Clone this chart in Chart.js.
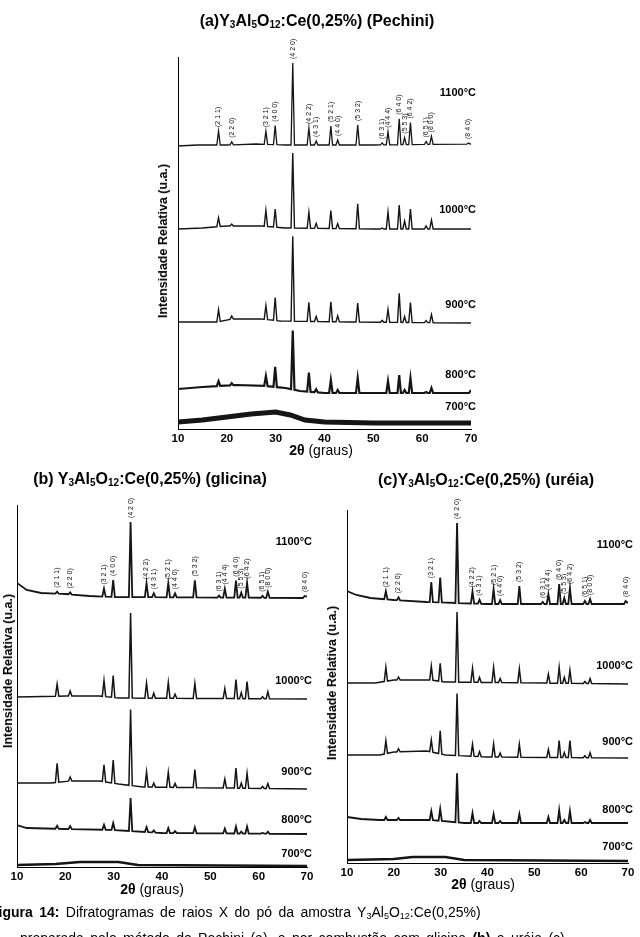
<!DOCTYPE html>
<html>
<head>
<meta charset="utf-8">
<script src="https://cdn.jsdelivr.net/npm/chart.js@4"></script>
<style>
body { margin: 0; width: 640px; height: 937px; overflow: hidden; background: #fff; position: relative; font-family: "Liberation Sans", Arial, sans-serif; }
canvas { position: absolute; }
.t { position: absolute; white-space: nowrap; color: #000; z-index: 2; }
.ttl { font-weight: bold; font-size: 16px; transform: translate(-50%, -50%); }
.ttl sub { font-size: 10px; vertical-align: -2px; line-height: 0; }
.xt { font-size: 14px; transform: translate(-50%, -50%); }
.yt { font-weight: bold; font-size: 12.5px; transform: translate(-50%, -50%) rotate(-90deg); }
.cap { font-size: 14px; line-height: 18px; word-spacing: 2.5px; }
.cap sub { font-size: 9px; vertical-align: -2px; line-height: 0; }
</style>
</head>
<body>
<canvas id="ca" width="317" height="424" style="left:166px;top:27px"></canvas>
<canvas id="cb" width="314" height="414" style="left:5px;top:475px"></canvas>
<canvas id="cc" width="305" height="405" style="left:335px;top:480px"></canvas>

<div class="t ttl" style="left:317px;top:21px">(a)Y<sub>3</sub>Al<sub>5</sub>O<sub>12</sub>:Ce(0,25%) (Pechini)</div>
<div class="t ttl" style="left:150px;top:479px">(b) Y<sub>3</sub>Al<sub>5</sub>O<sub>12</sub>:Ce(0,25%) (glicina)</div>
<div class="t ttl" style="left:486px;top:480px">(c)Y<sub>3</sub>Al<sub>5</sub>O<sub>12</sub>:Ce(0,25%) (uréia)</div>

<div class="t xt" style="left:321px;top:450px"><b>2θ</b> (graus)</div>
<div class="t xt" style="left:152px;top:889px"><b>2θ</b> (graus)</div>
<div class="t xt" style="left:483px;top:884px"><b>2θ</b> (graus)</div>

<div class="t yt" style="left:163px;top:241px">Intensidade Relativa (u.a.)</div>
<div class="t yt" style="left:8px;top:671px">Intensidade Relativa (u.a.)</div>
<div class="t yt" style="left:332px;top:683px">Intensidade Relativa (u.a.)</div>

<div class="t cap" style="left:-10px;top:903px"><b>Figura 14:</b> Difratogramas de raios X do pó da amostra Y<sub>3</sub>Al<sub>5</sub>O<sub>12</sub>:Ce(0,25%)</div>
<div class="t cap" style="left:20px;top:929px">preparada pelo método de Pechini (a), e por combustão com glicina <b>(b)</b> e uréia (c)</div>

<script>
// peak positions (2 theta) and Miller indices
const twoTheta = [18.3, 21.0, 28.0, 29.9, 33.5, 36.8, 38.3, 41.3, 42.7, 46.8, 51.8, 53.0, 55.3, 56.4, 57.6, 60.8, 61.9, 69.5];
const hkl = ["(2 1 1)", "(2 2 0)", "(3 2 1)", "(4 0 0)", "(4 2 0)", "(4 2 2)", "(4 3 1)", "(5 2 1)", "(4 4 0)", "(5 3 2)",
             "(6 3 1)", "(4 4 4)", "(6 4 0)", "(5 5 3)", "(6 4 2)", "(6 5 1)", "(8 0 0)", "(8 4 0)"];
const hklUreia = hkl.map(h => h === "(4 0 0)" ? null : h);
const temperatures = ["1100°C", "1000°C", "900°C", "800°C", "700°C"];
const xTicks = [10, 20, 30, 40, 50, 60, 70];

// (a) Pechini: background [2theta, level] and peak heights above background
const pechiniBackground = [
    [[10, 283], [14, 284], [20, 284], [26, 285], [32, 284], [50, 284], [70, 285]],
    [[10, 200], [15, 201], [20, 203], [27, 203], [32, 201], [50, 200], [70, 200]],
    [[10, 107], [18, 107], [21, 110], [27, 110], [31, 108], [45, 107], [70, 106]],
    [[10, 40], [15, 42], [22, 44], [28, 43], [32, 41], [35, 38], [40, 36], [69.6, 36], [70, 39]],
    [[10, 7], [15, 9], [20, 12], [25, 15], [30, 17], [33, 14], [36, 9], [40, 7], [50, 6], [70, 6]]
];
const pechiniPeaks = [
    [14, 3, 13, 19, 82, 17, 4, 19, 5, 20, 2, 13, 26, 7, 22, 3, 8, 1],
    [9, 2, 16, 18, 75, 16, 5, 18, 5, 25, 1, 17, 24, 8, 20, 3, 9, 0],
    [12, 3, 14, 23, 85, 19, 5, 20, 6, 19, 2, 13, 29, 6, 20, 2, 8, 0],
    [5, 2, 10, 20, 59, 19, 3, 13, 3, 15, 0, 12, 18, 3, 15, 1, 5, 0],
    []
];

// (b) glicina
const glicinaBackground = [
    [[10, 284], [12, 277], [15, 274], [20, 273], [25, 271], [30, 270], [69.5, 269], [70, 271]],
    [[10, 170], [20, 171], [27, 171], [31, 169], [70, 168]],
    [[10, 84], [17, 84], [21, 86], [27, 86], [31, 83], [36, 80], [70, 78]],
    [[10, 42], [12, 39], [20, 38], [30, 37], [40, 34], [70, 33]],
    [[10, 2], [18, 3], [23, 5], [31, 5], [35, 2], [70, 1]]
];
const glicinaPeaks = [
    [2, 2, 8, 17, 75, 14, 4, 14, 4, 17, 2, 9, 17, 5, 15, 2, 6, 2],
    [12, 5, 16, 22, 85, 15, 5, 16, 4, 15, 0, 10, 19, 6, 17, 2, 7, 0],
    [19, 4, 17, 23, 76, 15, 4, 15, 4, 18, 0, 9, 20, 5, 15, 2, 5, 0],
    [3, 3, 5, 7, 33, 5, 2, 5, 2, 6, 0, 5, 7, 2, 7, 1, 2, 0],
    []
];

// (c) ureia
const ureiaBackground = [
    [[10, 272], [12, 268], [15, 265], [20, 263], [27, 261], [40, 259], [69.5, 259], [70, 261]],
    [[10, 180], [16, 180], [20, 183], [28, 183], [31, 181], [70, 179]],
    [[10, 108], [17, 108], [20, 111], [27, 112], [31, 108], [40, 106], [70, 105]],
    [[10, 46], [13, 44], [17, 43], [20, 43], [28, 43], [35, 40], [70, 40]],
    [[10, 3], [20, 4], [24, 6], [31, 6], [35, 3], [70, 2]]
];
const ureiaPeaks = [
    [8, 3, 20, 25, 80, 12, 4, 15, 4, 18, 2, 10, 20, 6, 16, 3, 5, 3],
    [14, 3, 14, 18, 70, 14, 5, 15, 4, 14, 0, 9, 16, 6, 13, 2, 5, 0],
    [13, 3, 12, 23, 62, 12, 5, 13, 4, 13, 0, 8, 17, 5, 17, 2, 5, 0],
    [3, 2, 9, 12, 49, 10, 2, 9, 2, 9, 0, 6, 13, 3, 12, 1, 3, 0],
    []
];

// background level under a peak foot
function baseAt(bg, x) {
    for (let k = 1; k < bg.length; k++) {
        if (x <= bg[k][0]) {
            const [x0, y0] = bg[k - 1];
            const [x1, y1] = bg[k];
            return y0 + (y1 - y0) * (x - x0) / (x1 - x0);
        }
    }
    return bg[bg.length - 1][1];
}

const halfWidth = 0.35;
function tracePoints(bg, peaks) {
    const pts = bg.filter(([x]) => !peaks.some((h, i) => h && Math.abs(x - twoTheta[i]) < halfWidth))
        .map(([x, y]) => ({ x, y }));
    peaks.forEach((h, i) => {
        if (!h) return;
        const p = twoTheta[i];
        pts.push({ x: p - halfWidth, y: baseAt(bg, p - halfWidth) },
                 { x: p, y: baseAt(bg, p) + h },
                 { x: p + halfWidth, y: baseAt(bg, p + halfWidth) });
    });
    return pts.sort((a, b) => a.x - b.x);
}

const labelPlugin = {
    id: "xrdLabels",
    afterDatasetsDraw(chart) {
        const o = chart.options.plugins.xrdLabels;
        const ctx = chart.ctx;
        const xs = chart.scales.x, ys = chart.scales.y;
        ctx.save();
        ctx.fillStyle = "#111";
        // hkl indices above the 1100 trace
        ctx.font = "7px 'Liberation Sans', Arial, sans-serif";
        ctx.textAlign = "left";
        ctx.textBaseline = "middle";
        o.peaks.forEach((h, i) => {
            if (!o.labels[i]) return;
            const p = twoTheta[i];
            const px = xs.getPixelForValue(p);
            const py = ys.getPixelForValue(baseAt(o.bg, p) + h) - 4;
            ctx.save();
            ctx.translate(px, py);
            ctx.rotate(-Math.PI / 2);
            ctx.fillText(o.labels[i], 0, 0);
            ctx.restore();
        });
        // temperature labels
        ctx.fillStyle = "#000";
        ctx.font = "bold 11px 'Liberation Sans', Arial, sans-serif";
        ctx.textAlign = "right";
        temperatures.forEach((t, j) => {
            ctx.fillText(t, chart.chartArea.right + 5, ys.getPixelForValue(o.tempAt[j]));
        });
        ctx.restore();
    }
};

function makePanel(id, bgs, peaks, labels, yMax, tempAt, widths) {
    new Chart(document.getElementById(id), {
        type: "line",
        data: {
            datasets: bgs.map((bg, j) => ({
                label: temperatures[j],
                data: tracePoints(bg, peaks[j]),
                borderColor: "#151515",
                borderWidth: widths[j],
                pointRadius: 0,
                tension: 0,
                fill: false
            }))
        },
        options: {
            responsive: false,
            animation: false,
            devicePixelRatio: 1,
            layout: { padding: { left: 12, right: 12, top: 30, bottom: 0 } },
            plugins: {
                legend: { display: false },
                tooltip: { enabled: false },
                xrdLabels: { bg: bgs[0], peaks: peaks[0], labels, tempAt }
            },
            scales: {
                x: {
                    type: "linear",
                    min: 10,
                    max: 70,
                    afterBuildTicks: s => { s.ticks = xTicks.map(v => ({ value: v })); },
                    afterFit: s => { s.height = 22; },
                    grid: { display: false, drawTicks: false },
                    border: { display: true, color: "#000", width: 1 },
                    ticks: { padding: 3, color: "#000", font: { family: "'Liberation Sans Narrow', 'Liberation Sans'", size: 11.5, weight: "bold" } }
                },
                y: {
                    min: 0,
                    max: yMax,
                    afterFit: s => { s.width = 0; },
                    grid: { display: false, drawTicks: false },
                    border: { display: true, color: "#000", width: 1 },
                    ticks: { display: false }
                }
            }
        },
        plugins: [labelPlugin]
    });
}

makePanel("ca", pechiniBackground, pechiniPeaks, hkl, 372, [336, 219, 124, 54, 22], [1.3, 1.4, 1.4, 2.2, 5]);
makePanel("cb", glicinaBackground, glicinaPeaks, hkl, 362, [325, 186, 95, 47, 13], [1.8, 1.5, 1.5, 1.8, 2.5]);
makePanel("cc", ureiaBackground, ureiaPeaks, hklUreia, 353, [318, 197, 121, 53, 16], [1.8, 1.5, 1.5, 1.8, 2.5]);
</script>
</body>
</html>
